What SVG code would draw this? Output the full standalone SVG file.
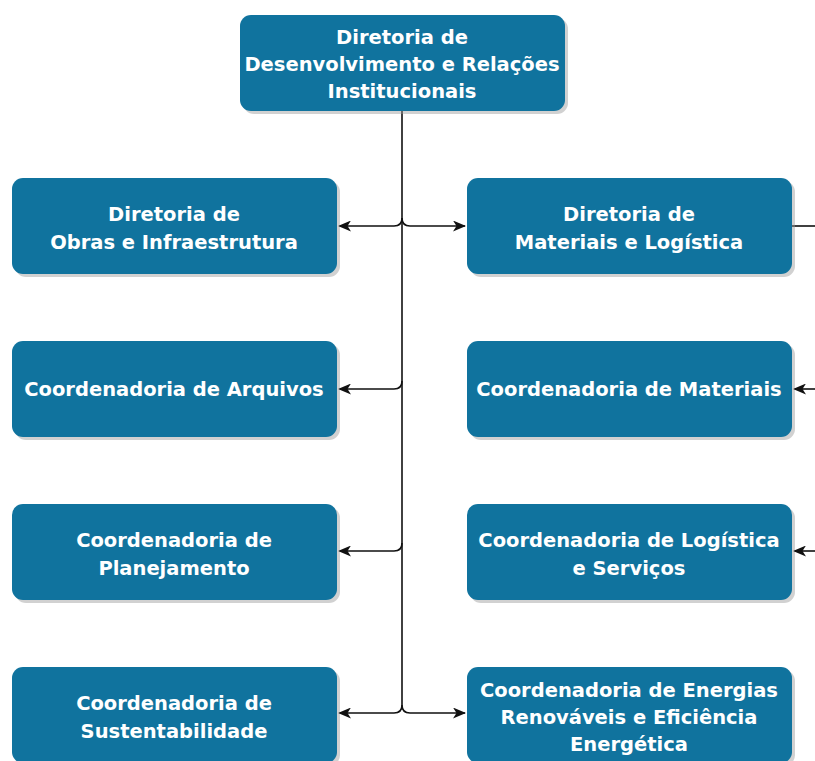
<svg xmlns="http://www.w3.org/2000/svg" width="815" height="761" viewBox="0 0 815 761">
<style>
.box{fill:#10739E;}
.sh{fill:#9a9a9a;opacity:0.45;}
.t{fill:#ffffff;font-family:"DejaVu Sans",Verdana,sans-serif;font-weight:bold;font-size:19.5px;text-anchor:middle;}
.c{fill:none;stroke:#111;stroke-width:1.6;}
</style>
<defs>
<marker id="ah" viewBox="0 0 13 11" refX="12" refY="5.5" markerWidth="13" markerHeight="11" markerUnits="userSpaceOnUse" orient="auto">
<path d="M0,0 L13,5.5 L0,11 L3.5,5.5 Z" fill="#111"/>
</marker>
</defs>
<rect width="815" height="761" fill="#ffffff"/>
<g id="connectors">
<path class="c" d="M402,111 V705"/>
<path class="c" d="M402,218 Q402,226 394,226 H339" marker-end="url(#ah)"/>
<path class="c" d="M402,218 Q402,226 410,226 H465" marker-end="url(#ah)"/>
<path class="c" d="M402,381 Q402,389 394,389 H339" marker-end="url(#ah)"/>
<path class="c" d="M402,543 Q402,551 394,551 H339" marker-end="url(#ah)"/>
<path class="c" d="M402,705 Q402,713 394,713 H339" marker-end="url(#ah)"/>
<path class="c" d="M402,705 Q402,713 410,713 H465" marker-end="url(#ah)"/>
<path class="c" d="M792,226 H815"/>
<path class="c" d="M815,389 H794" marker-end="url(#ah)"/>
<path class="c" d="M815,551 H794" marker-end="url(#ah)"/>
</g>
<g id="n-top">
<rect class="sh" x="243" y="18" width="325" height="96" rx="11"/>
<rect class="box" x="240" y="15" width="325" height="96" rx="11"/>
<text class="t" x="402" y="44">Diretoria de</text>
<text class="t" x="402" y="71">Desenvolvimento e Relações</text>
<text class="t" x="402" y="98">Institucionais</text>
</g>
<g id="n-obras">
<rect class="sh" x="15" y="181" width="325" height="96" rx="11"/>
<rect class="box" x="12" y="178" width="325" height="96" rx="11"/>
<text class="t" x="174" y="221">Diretoria de</text>
<text class="t" x="174" y="249">Obras e Infraestrutura</text>
</g>
<g id="n-matlog">
<rect class="sh" x="470" y="181" width="325" height="96" rx="11"/>
<rect class="box" x="467" y="178" width="325" height="96" rx="11"/>
<text class="t" x="629" y="221">Diretoria de</text>
<text class="t" x="629" y="249">Materiais e Logística</text>
</g>
<g id="n-arquivos">
<rect class="sh" x="15" y="344" width="325" height="96" rx="11"/>
<rect class="box" x="12" y="341" width="325" height="96" rx="11"/>
<text class="t" x="174" y="396">Coordenadoria de Arquivos</text>
</g>
<g id="n-materiais">
<rect class="sh" x="470" y="344" width="325" height="96" rx="11"/>
<rect class="box" x="467" y="341" width="325" height="96" rx="11"/>
<text class="t" x="629" y="396">Coordenadoria de Materiais</text>
</g>
<g id="n-planejamento">
<rect class="sh" x="15" y="507" width="325" height="96" rx="11"/>
<rect class="box" x="12" y="504" width="325" height="96" rx="11"/>
<text class="t" x="174" y="547">Coordenadoria de</text>
<text class="t" x="174" y="575">Planejamento</text>
</g>
<g id="n-logistica">
<rect class="sh" x="470" y="507" width="325" height="96" rx="11"/>
<rect class="box" x="467" y="504" width="325" height="96" rx="11"/>
<text class="t" x="629" y="547">Coordenadoria de Logística</text>
<text class="t" x="629" y="575">e Serviços</text>
</g>
<g id="n-sustentabilidade">
<rect class="sh" x="15" y="670" width="325" height="96" rx="11"/>
<rect class="box" x="12" y="667" width="325" height="96" rx="11"/>
<text class="t" x="174" y="710">Coordenadoria de</text>
<text class="t" x="174" y="738">Sustentabilidade</text>
</g>
<g id="n-energias">
<rect class="sh" x="470" y="670" width="325" height="96" rx="11"/>
<rect class="box" x="467" y="667" width="325" height="96" rx="11"/>
<text class="t" x="629" y="697">Coordenadoria de Energias</text>
<text class="t" x="629" y="724">Renováveis e Eficiência</text>
<text class="t" x="629" y="751">Energética</text>
</g>
</svg>
